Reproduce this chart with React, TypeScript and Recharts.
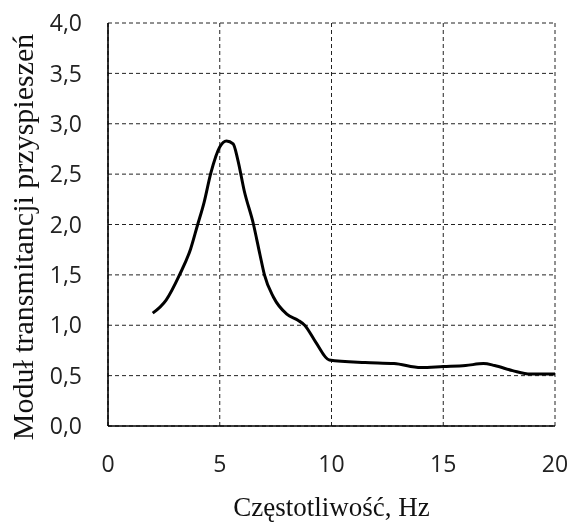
import React from "react";
import { LineChart, Line, XAxis, YAxis, CartesianGrid, Label } from "recharts";

const freqHz = [2, 2.6, 3.2, 3.7, 4.0, 4.3, 4.6, 5.0, 5.3, 5.6, 5.8, 6.1, 6.5, 6.8, 7.0, 7.4, 8.0, 8.5, 8.8, 9.3, 9.9, 11.5, 12.8, 14.0, 15.0, 16.0, 16.8, 17.3, 18.1, 18.9, 20];
const modulus = [1.12, 1.25, 1.5, 1.76, 1.99, 2.22, 2.51, 2.77, 2.83, 2.8, 2.65, 2.33, 2.01, 1.7, 1.5, 1.28, 1.11, 1.05, 1.0, 0.83, 0.655, 0.63, 0.62, 0.58, 0.59, 0.6, 0.62, 0.6, 0.55, 0.515, 0.515];
const xTicks = [0, 5, 10, 15, 20];
const yTicks = [0, 0.5, 1, 1.5, 2, 2.5, 3, 3.5, 4];
const xTitle = "Częstotliwość, Hz";
const yTitle = "Moduł transmitancji przyspieszeń";

const data = freqHz.map((f, i) => ({ f, m: modulus[i] }));

const tickFont = { fontFamily: "'Open Sans', sans-serif", fontSize: 23, fill: "#222" };

const XTitle = (props: any) => {
  const vb = props.viewBox;
  return (
    <text
      x={vb.x + vb.width / 2}
      y={vb.y + 90}
      textAnchor="middle"
      fontFamily="'Liberation Serif', serif"
      fontSize={27}
      fill="#111"
    >
      {xTitle}
    </text>
  );
};

const YTitle = () => (
  <text
    x={0}
    y={0}
    transform="translate(33, 237) rotate(-90)"
    textAnchor="middle"
    fontFamily="'Liberation Serif', serif"
    fontSize={30}
    fill="#111"
  >
    {yTitle}
  </text>
);

export default function App() {
  return (
    <div style={{ position: "fixed", left: 0, top: 0, width: 571, height: 522, overflow: "visible" }}>
      <LineChart
        width={571}
        height={522}
        data={data}
        margin={{ top: 23, right: 16, left: 0, bottom: 0 }}
        style={{ overflow: "visible" }}
      >
        <CartesianGrid stroke="#222" strokeDasharray="4 3" strokeWidth={1} />
        <XAxis
          dataKey="f"
          type="number"
          domain={[0, 20]}
          ticks={xTicks}
          height={96}
          tickLine={false}
          tickSize={6}
          tickMargin={24}
          axisLine={{ stroke: "#000", strokeWidth: 1.6 }}
          tick={tickFont}
          interval={0}
        >
          <Label content={<XTitle />} />
        </XAxis>
        <YAxis
          type="number"
          domain={[0, 4]}
          ticks={yTicks}
          width={108}
          tickLine={false}
          tickSize={6}
          tickMargin={20}
          axisLine={{ stroke: "#000", strokeWidth: 1.6 }}
          tick={tickFont}
          interval={0}
          tickFormatter={(v: number) => v.toFixed(1).replace(".", ",")}
        >
          <Label content={<YTitle />} />
        </YAxis>
        <Line
          type="monotone"
          dataKey="m"
          stroke="#000"
          strokeWidth={3}
          dot={false}
          isAnimationActive={false}
        />
      </LineChart>
    </div>
  );
}
